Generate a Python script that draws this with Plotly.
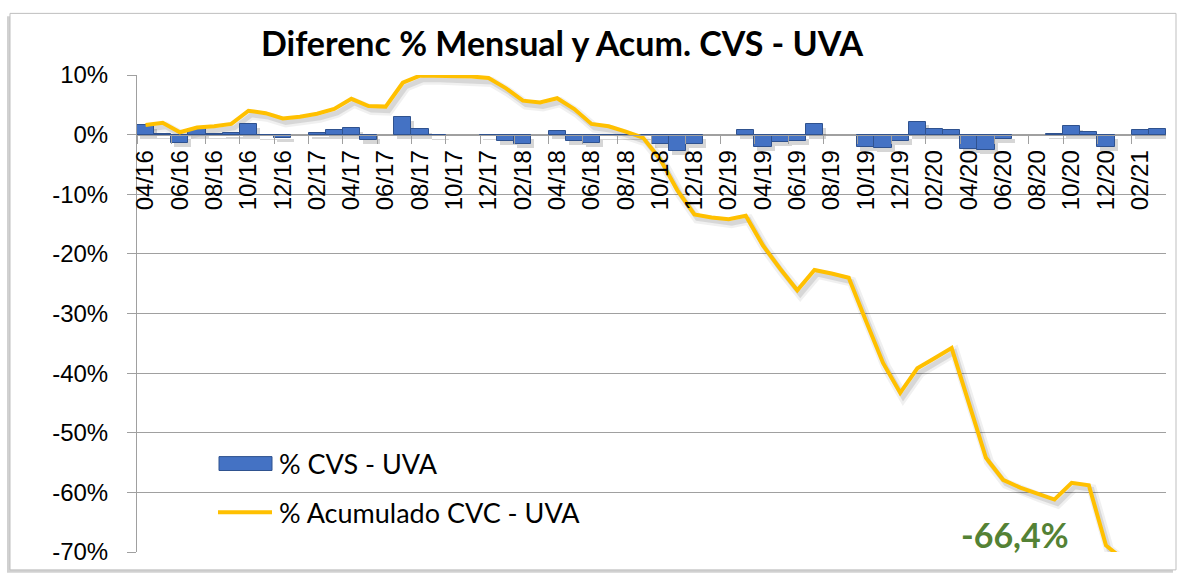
import plotly.graph_objects as go

# Meses (abril 2016 a marzo 2021)
meses = [
    "04/16", "05/16", "06/16", "07/16", "08/16", "09/16", "10/16", "11/16", "12/16",
    "01/17", "02/17", "03/17", "04/17", "05/17", "06/17", "07/17", "08/17", "09/17",
    "10/17", "11/17", "12/17", "01/18", "02/18", "03/18", "04/18", "05/18", "06/18",
    "07/18", "08/18", "09/18", "10/18", "11/18", "12/18", "01/19", "02/19", "03/19",
    "04/19", "05/19", "06/19", "07/19", "08/19", "09/19", "10/19", "11/19", "12/19",
    "01/20", "02/20", "03/20", "04/20", "05/20", "06/20", "07/20", "08/20", "09/20",
    "10/20", "11/20", "12/20", "01/21", "02/21", "03/21",
]

# Diferencia mensual % CVS - UVA
dif_mensual = [
    1.6, 0.1, -1.4, 0.9, 0.1, 0.2, 1.8, -0.2, -0.6,
    0.0, 0.3, 0.8, 1.1, -0.9, 0.0, 2.9, 0.9, -0.2,
    0.0, 0.0, -0.3, -1.0, -1.6, 0.0, 0.55, -1.0, -1.4,
    -0.3, -0.3, -0.3, -1.5, -2.8, -1.5, 0.0, 0.0, 0.7,
    -2.0, -1.3, -1.0, 1.8, 0.0, 0.0, -2.0, -2.2, -1.1,
    2.2, 1.0, 0.8, -2.4, -2.5, -0.8, 0.0, 0.0, 0.1,
    1.4, 0.4, -2.0, 0.0, 0.7, 0.9,
]

# Diferencia acumulada % CVC - UVA
acumulado = [
    1.6, 2.0, 0.4, 1.2, 1.4, 1.8, 4.0, 3.6, 2.7,
    3.0, 3.5, 4.3, 6.0, 4.8, 4.7, 8.7, 9.9, 9.85,
    9.8, 9.75, 9.5, 7.8, 5.7, 5.4, 6.1, 4.3, 1.8,
    1.4, 0.5, -0.5, -4.1, -9.3, -13.4, -13.9, -14.2, -13.6,
    -18.6, -22.5, -26.1, -22.7, -23.3, -24.0, -31.2, -38.3, -43.3,
    -39.2, -37.5, -35.8, -45.0, -54.2, -57.9, -59.2, -60.2, -61.2,
    -58.4, -58.8, -68.9, -71.2, -71.6, -71.3,
]

cierre = -66.4
y_ticks = [10, 0, -10, -20, -30, -40, -50, -60, -70]

W, H = 1181, 577
ML, MR, MT, MB = 137, 15, 75, 22
PW, PH = W - ML - MR, H - MT - MB
Y_MIN, Y_MAX = -70, 10
n = len(meses)
idx = list(range(n))


def px_x(px):
    return (px - ML) / PW


def px_y(py):
    return (H - MB - py) / PH


# shadow offset (3 px right, 4 px down) expressed in axis units
sx = 3 / (PW / n)
sy = 4 / (PH / (Y_MAX - Y_MIN))

AZUL = "#4472C4"
AZUL_OSC = "#2F528F"
ORO = "#FFC000"
GRIS = "#A0A0A0"
VERDE = "#548235"

# no outline on empty months so the zero line stays grey
borde_barras = [1 if v != 0 else 0 for v in dif_mensual]

fig = go.Figure()

# base subplot: carries the visible axes and grid
fig.add_scatter(x=idx, y=acumulado, mode="lines",
                line=dict(color="rgba(0,0,0,0)", width=0),
                showlegend=False, hoverinfo="skip")

# soft drop shadows
fig.add_bar(x=idx, y=dif_mensual, xaxis="x2", yaxis="y2", width=1.0,
            marker=dict(color="rgba(0,0,0,0.16)", line_width=0),
            showlegend=False, hoverinfo="skip")
fig.add_scatter(x=idx, y=acumulado, xaxis="x2", yaxis="y2", mode="lines",
                line=dict(color="rgba(0,0,0,0.06)", width=10),
                showlegend=False, hoverinfo="skip")
fig.add_scatter(x=idx, y=acumulado, xaxis="x2", yaxis="y2", mode="lines",
                line=dict(color="rgba(0,0,0,0.10)", width=5),
                showlegend=False, hoverinfo="skip")

# data series
fig.add_bar(x=idx, y=dif_mensual, xaxis="x3", yaxis="y3", width=1.0,
            name="% CVS - UVA",
            marker=dict(color=AZUL,
                        line=dict(color=AZUL_OSC, width=borde_barras)),
            showlegend=False)
fig.add_scatter(x=idx, y=acumulado, xaxis="x3", yaxis="y3", mode="lines",
                name="% Acumulado CVC - UVA",
                line=dict(color=ORO, width=4), showlegend=False)

x_range = [-0.5, n - 0.5]
y_range = [Y_MIN, Y_MAX]
zero_pos = (0 - Y_MIN) / (Y_MAX - Y_MIN)

fig.update_layout(
    width=W, height=H,
    margin=dict(l=ML, r=MR, t=MT, b=MB),
    paper_bgcolor="white",
    plot_bgcolor="rgba(0,0,0,0)",
    showlegend=False,
    bargap=0,
    title=dict(
        text="<b>Diferenc % Mensual y Acum. CVS - UVA</b>",
        x=562 / W, xref="container", xanchor="center",
        y=1 - 44 / H, yref="container", yanchor="middle",
        font=dict(family="Lato", size=34, color="black"),
    ),
    xaxis=dict(
        range=x_range, anchor="free", position=zero_pos,
        showline=True, linecolor=GRIS, linewidth=1,
        showgrid=False, zeroline=False,
        tickmode="array", tickvals=idx[::2], ticktext=meses[::2],
        tickangle=-90, ticks="", ticklabelstandoff=5,
        tickfont=dict(family="Liberation Sans", size=24, color="black"),
        minor=dict(tickmode="array", tickvals=[i - 0.5 for i in idx[::2]],
                   ticks="outside", ticklen=8, tickcolor=GRIS, showgrid=False),
    ),
    yaxis=dict(
        range=y_range, showline=True, linecolor=GRIS, linewidth=1,
        showgrid=True, gridcolor=GRIS, gridwidth=1, zeroline=False,
        tickmode="array", tickvals=y_ticks,
        ticktext=[f"{v}%" for v in y_ticks],
        ticks="outside", ticklen=9, tickcolor=GRIS, ticklabelstandoff=14,
        tickfont=dict(family="Liberation Sans", size=24, color="black"),
    ),
    xaxis2=dict(range=[x_range[0] - sx, x_range[1] - sx], overlaying="x",
                anchor="y2", visible=False),
    yaxis2=dict(range=[y_range[0] + sy, y_range[1] + sy], overlaying="y",
                anchor="x2", visible=False),
    xaxis3=dict(range=x_range, overlaying="x", anchor="y3", visible=False),
    yaxis3=dict(range=y_range, overlaying="y", anchor="x3", visible=False),
)

# chart frame with a light shadow
fig.add_shape(type="rect", xref="paper", yref="paper", layer="below",
              x0=px_x(7), x1=px_x(1173), y0=px_y(576), y1=px_y(16),
              line=dict(width=0), fillcolor="rgba(0,0,0,0.18)")
fig.add_shape(type="rect", xref="paper", yref="paper", layer="below",
              x0=px_x(10), x1=px_x(1176), y0=px_y(573), y1=px_y(13),
              line=dict(color="#BFBFBF", width=1), fillcolor="white")

# legend
fig.add_shape(type="rect", xref="paper", yref="paper",
              x0=px_x(219), x1=px_x(272), y0=px_y(473), y1=px_y(459),
              line=dict(color=AZUL_OSC, width=1), fillcolor=AZUL)
fig.add_shape(type="line", xref="paper", yref="paper",
              x0=px_x(218), x1=px_x(272), y0=px_y(515), y1=px_y(515),
              line=dict(color=ORO, width=4))
fig.add_annotation(text="% CVS - UVA", xref="paper", yref="paper",
                   x=px_x(277), y=px_y(466), xanchor="left", yanchor="middle",
                   showarrow=False,
                   font=dict(family="Lato", size=27, color="black"))
fig.add_annotation(text="% Acumulado CVC - UVA", xref="paper", yref="paper",
                   x=px_x(277), y=px_y(515), xanchor="left", yanchor="middle",
                   showarrow=False,
                   font=dict(family="Lato", size=27, color="black"))

# closing value
fig.add_annotation(text="<b>" + f"{cierre:.1f}%".replace(".", ",") + "</b>",
                   xref="paper", yref="paper",
                   x=px_x(1015), y=px_y(537), xanchor="center", yanchor="middle",
                   showarrow=False,
                   font=dict(family="Lato", size=34, color=VERDE))

fig.write_html("out.html")
